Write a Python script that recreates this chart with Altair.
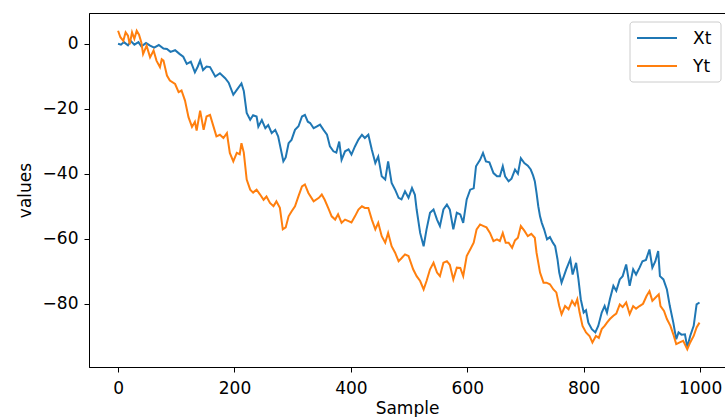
import altair as alt
import pandas as pd

# Series (sample index, value)
xt_sample = [0, 5, 10, 17, 22, 28, 35, 40, 48, 55, 62, 70, 78, 84, 90, 98, 106, 112, 118, 125, 132, 137, 141, 146, 152, 158, 167, 175, 184, 190, 198, 204, 212, 216, 221, 227, 232, 238, 241, 247, 253, 258, 264, 270, 275, 281, 284, 288, 293, 298, 304, 310, 316, 321, 326, 330, 336, 341, 347, 353, 359, 364, 370, 375, 380, 384, 390, 396, 401, 407, 413, 419, 424, 430, 436, 442, 447, 453, 459, 464, 470, 476, 482, 487, 493, 499, 505, 510, 513, 519, 525, 530, 536, 542, 548, 553, 559, 565, 570, 576, 582, 588, 593, 599, 605, 611, 615, 622, 627, 632, 638, 645, 651, 656, 661, 665, 671, 676, 682, 687, 692, 698, 704, 709, 713, 716, 719, 722, 725, 728, 732, 737, 742, 747, 751, 755, 758, 762, 766, 770, 777, 781, 787, 791, 795, 800, 804, 808, 814, 820, 825, 831, 836, 840, 845, 851, 856, 862, 867, 873, 879, 885, 890, 896, 901, 907, 913, 918, 923, 928, 931, 937, 943, 948, 954, 959, 963, 968, 974, 978, 983, 989, 994, 999]
xt_value = [0.0, -0.3, 0.5, -0.5, 0.8, -0.3, 0.5, -0.8, 0.2, -0.6, -1.2, -0.4, -1.5, -1.6, -2.5, -2.0, -3.2, -4.0, -6.2, -5.5, -8.8, -7.0, -5.2, -8.1, -7.0, -7.2, -10.1, -9.1, -10.6, -12.0, -15.7, -14.2, -12.2, -14.5, -21.3, -23.4, -22.0, -22.4, -25.5, -23.5, -26.0, -25.0, -27.5, -26.5, -28.5, -33.6, -36.2, -35.0, -30.6, -29.6, -26.5, -25.4, -22.4, -21.9, -24.0, -24.4, -26.0, -25.5, -24.9, -26.5, -28.0, -31.6, -33.1, -33.5, -30.1, -35.7, -33.1, -32.5, -34.1, -31.6, -29.5, -28.0, -29.0, -28.0, -32.6, -36.7, -34.7, -40.8, -41.8, -36.2, -42.8, -44.9, -47.4, -47.9, -45.4, -47.4, -44.4, -46.5, -51.0, -58.2, -62.3, -57.1, -52.0, -51.0, -54.1, -56.1, -51.0, -49.5, -51.0, -57.1, -52.0, -52.5, -55.1, -47.9, -44.9, -44.5, -37.7, -35.7, -33.6, -36.2, -36.5, -39.8, -40.8, -40.8, -37.7, -40.8, -42.3, -41.5, -38.7, -40.0, -35.2, -36.7, -37.5, -38.7, -40.5, -42.3, -45.9, -50.0, -53.1, -55.1, -57.1, -60.2, -59.5, -61.2, -62.3, -66.3, -70.4, -73.5, -71.5, -69.4, -66.3, -71.0, -67.4, -72.5, -78.6, -82.7, -82.0, -85.8, -87.8, -88.8, -86.8, -82.7, -80.7, -82.7, -78.6, -74.5, -76.0, -72.5, -71.5, -67.9, -74.5, -69.4, -71.0, -68.9, -66.9, -66.5, -63.3, -68.9, -67.0, -63.8, -71.5, -72.5, -75.6, -80.7, -85.8, -90.9, -88.8, -89.5, -89.4, -93.4, -89.9, -86.8, -80.2, -79.6]

yt_sample = [0, 4, 9, 13, 17, 20, 24, 28, 32, 36, 40, 43, 49, 55, 61, 66, 72, 75, 78, 84, 89, 98, 104, 109, 115, 121, 127, 132, 135, 141, 147, 152, 158, 164, 169, 175, 181, 187, 192, 198, 204, 209, 212, 216, 221, 227, 232, 238, 244, 250, 255, 261, 267, 272, 278, 283, 288, 293, 298, 304, 310, 316, 321, 327, 336, 345, 350, 355, 361, 367, 373, 378, 384, 390, 396, 401, 407, 413, 419, 424, 430, 436, 442, 447, 453, 459, 464, 470, 476, 482, 487, 493, 499, 507, 513, 519, 525, 530, 536, 542, 548, 553, 559, 565, 570, 576, 582, 588, 593, 599, 605, 611, 616, 622, 628, 633, 639, 645, 651, 656, 661, 666, 671, 677, 682, 687, 692, 698, 704, 710, 716, 719, 725, 731, 736, 742, 748, 753, 758, 762, 768, 774, 780, 785, 789, 793, 798, 804, 810, 815, 821, 826, 831, 836, 840, 845, 851, 856, 862, 867, 873, 879, 885, 890, 896, 902, 908, 913, 918, 924, 929, 932, 938, 943, 949, 954, 959, 965, 971, 978, 983, 989, 994, 999]
yt_value = [4.0, 2.0, 0.9, 3.5, 2.5, -0.2, 3.5, 1.5, 4.0, 2.8, 0.4, -3.2, -0.6, -4.2, -2.1, -5.2, -7.2, -4.8, -5.2, -9.8, -11.3, -12.4, -14.9, -14.4, -17.5, -22.6, -25.6, -24.0, -26.7, -20.6, -26.5, -22.4, -21.9, -25.5, -28.5, -28.0, -29.0, -27.5, -33.6, -36.2, -33.6, -34.0, -30.6, -33.5, -41.8, -44.9, -45.8, -44.9, -46.4, -48.0, -47.0, -49.0, -50.0, -48.5, -50.5, -57.1, -56.5, -53.1, -51.6, -50.0, -46.9, -43.9, -43.3, -45.9, -48.5, -47.4, -46.4, -48.0, -50.5, -53.1, -54.1, -52.5, -55.1, -54.1, -54.6, -55.0, -53.1, -51.0, -50.0, -50.5, -50.5, -54.1, -57.1, -55.1, -59.2, -61.2, -58.2, -62.3, -64.3, -66.9, -66.0, -64.8, -65.3, -69.4, -71.5, -73.0, -75.6, -73.0, -69.4, -67.4, -70.4, -71.5, -67.4, -66.9, -68.0, -72.5, -68.9, -69.0, -71.5, -65.3, -63.3, -61.2, -57.1, -55.6, -56.1, -56.5, -58.2, -60.7, -60.2, -60.7, -58.2, -61.2, -61.2, -62.8, -60.5, -59.7, -56.1, -57.5, -59.2, -58.5, -59.7, -64.3, -70.4, -73.5, -73.5, -74.0, -75.6, -76.5, -80.7, -83.2, -80.7, -81.7, -79.1, -80.5, -78.6, -82.7, -86.8, -88.8, -89.9, -91.9, -89.9, -90.5, -87.8, -86.8, -85.8, -84.7, -83.7, -83.0, -80.2, -81.0, -79.6, -83.2, -80.7, -81.5, -80.7, -80.0, -77.6, -76.1, -79.1, -78.0, -77.1, -80.7, -82.2, -84.7, -86.8, -89.4, -92.4, -91.9, -91.4, -94.0, -91.9, -89.9, -87.3, -85.8]

series_names = ["Xt", "Yt"]
series_colors = ["#1f77b4", "#ff7f0e"]

df = pd.concat([
    pd.DataFrame({"Sample": xt_sample, "values": xt_value, "series": "Xt"}),
    pd.DataFrame({"Sample": yt_sample, "values": yt_value, "series": "Yt"}),
])
legend_df = pd.DataFrame({"series": series_names, "row": list(range(len(series_names)))})

FONT = "DejaVu Sans"
color_scale = alt.Scale(domain=series_names, range=series_colors)

lines = alt.Chart(df).mark_line(strokeWidth=2, clip=True).encode(
    x=alt.X("Sample:Q",
            scale=alt.Scale(domain=[-49.95, 1042.8], nice=False, zero=False),
            axis=alt.Axis(values=[0, 200, 400, 600, 800, 1000], format="d",
                          title="Sample", titleBaseline="alphabetic", titleY=46,
                          labelPadding=8)),
    y=alt.Y("values:Q",
            scale=alt.Scale(domain=[-99.45, 9.45], nice=False, zero=False),
            axis=alt.Axis(values=[0, -20, -40, -60, -80], format="d",
                          title="values", titleX=-64, titleBaseline="middle",
                          labelPadding=6)),
    color=alt.Color("series:N", scale=color_scale, legend=None),
)

# Legend (matplotlib style box in the upper right)
legend_box = alt.Chart(legend_df.head(1)).mark_rect(
    fill="white", fillOpacity=0.8, stroke="#cccccc", strokeWidth=1, cornerRadius=3
).encode(x=alt.value(541), x2=alt.value(632), y=alt.value(9), y2=alt.value(69))

legend_y = alt.Y("row:Q",
                 scale=alt.Scale(domain=[0, 1], range=[25, 53], nice=False, zero=False),
                 axis=None)

legend_lines = alt.Chart(legend_df).mark_rule(strokeWidth=2).encode(
    x=alt.value(548), x2=alt.value(588), y=legend_y,
    color=alt.Color("series:N", scale=color_scale, legend=None),
)
legend_text = alt.Chart(legend_df).mark_text(
    align="left", baseline="middle", font=FONT, fontSize=17, color="black", dy=1
).encode(x=alt.value(604), y=legend_y, text="series:N")

legend = alt.layer(legend_box, legend_lines, legend_text)

chart = alt.layer(lines, legend).resolve_scale(y="independent").properties(
    width=636, height=354,
    autosize=alt.AutoSizeParams(type="none"),
    padding={"left": 89, "top": 13, "right": 0, "bottom": 50},
).configure_view(
    stroke="black", strokeWidth=1,
).configure_axis(
    grid=False, domainColor="black", tickColor="black", tickSize=5,
    labelFont=FONT, labelFontSize=17, labelColor="black",
    titleFont=FONT, titleFontSize=17, titleColor="black", titleFontWeight="normal",
)

chart.save("out.html", embed_options={"renderer": "svg", "actions": False})
